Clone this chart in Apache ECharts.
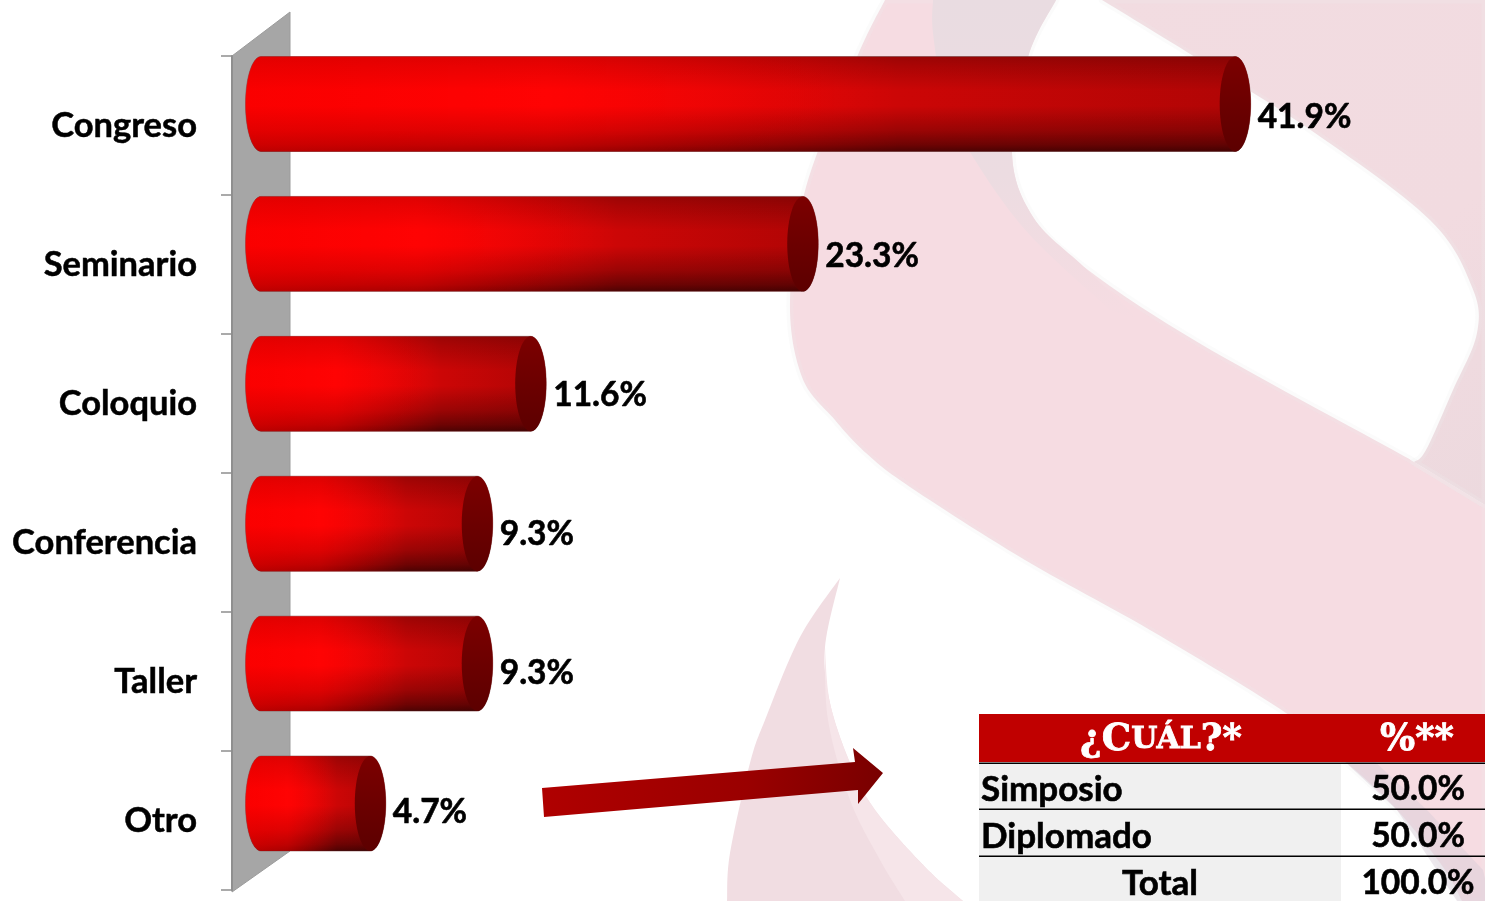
<!DOCTYPE html>
<html><head><meta charset="utf-8">
<style>html,body{margin:0;padding:0;background:#fff}#c{width:1485px;height:901px}</style>
<script src="https://cdn.jsdelivr.net/npm/echarts@6/dist/echarts.min.js"></script></head>
<body><div id="c"></div>
<script>
const categories = ['Congreso','Seminario','Coloquio','Conferencia','Taller','Otro'];
const percentages = [41.9,23.3,11.6,9.3,9.3,4.7];
const tableHeaders = ['¿CUÁL?*','%**'];
const tableLabels = ['Simposio','Diplomado','Total'];
const tableValues = ['50.0%','50.0%','100.0%'];

const FONT = 'Lato';
const chart = echarts.init(document.getElementById('c'));

function curve(p){
  const out=[];
  for(let i=0;i<p.length-1;i++){
    const a=p[Math.max(i-1,0)],b=p[i],c=p[i+1],d=p[Math.min(i+2,p.length-1)];
    for(let k=0;k<14;k++){
      const t=k/14,t2=t*t,t3=t2*t;
      out.push([0,1].map(j=>0.5*(2*b[j]+(c[j]-a[j])*t+(2*a[j]-5*b[j]+4*c[j]-d[j])*t2+(3*b[j]-a[j]-3*c[j]+d[j])*t3)));
    }
  }
  out.push(p[p.length-1]);
  return out;
}
const lin=(x,y,x2,y2,stops)=>({type:'linear',x,y,x2,y2,colorStops:stops.map(s=>({offset:s[0],color:s[1]}))});

// Background watermark ribbons
const ribbonLeft=[[885,0],[857,57],[806,187],[790,300],[802,377],[835,420],[866,453],[910,487],[1025,560],[1150,630],[1286,713],[1347,763],[1397,810],[1443,867],[1462,901]];
const ribbonRight=[[1485,505],[1414,462],[1393,450],[1199,343],[1084,267],[1033,217],[1012,153],[1028,57],[1056,0]];
const bandLeft=[[933,0],[933,33],[945,100],[973,157],[1028,233],[1110,310]];
const bandRight=[[1140,320],[1084,267],[1033,217],[1012,153],[1028,57],[1056,0]];
const upperInner=[[1102,0],[1195,57],[1315,133],[1430,220],[1472,287],[1477,333],[1453,390],[1426,450],[1414,462]];
const lowerLeft=[[840,578],[800,637],[765,720],[750,763],[730,853],[727,901]];
const lowerRight=[[963,901],[925,867],[875,810],[850,763],[830,703],[825,647],[840,578]];
const lowerBandEdge=[[905,901],[880,860],[850,800],[828,720],[825,647]];
const softEdge={stroke:'rgba(235,235,235,0.22)',lineWidth:7,lineJoin:'round'};

const bg=[
 {type:'polygon',z:-10,shape:{points:curve(ribbonLeft).concat([[1485,901]],curve(ribbonRight))},style:{fill:'#f6dce2',...softEdge}},
 {type:'polygon',z:-9,shape:{points:curve(upperInner).concat([[1485,505],[1485,0]])},style:{fill:lin(0,0,1,1,[[0,'#f2dce1'],[0.6,'#f2dbe0'],[1,'#ecd9de']]),...softEdge}},
 {type:'polygon',z:-8,shape:{points:curve(bandLeft).concat(curve(bandRight))},style:{fill:lin(0,0,0,1,[[0,'#e9dce1'],[0.55,'#ecdce1'],[1,'#f6dce2']])}},
 {type:'polygon',z:-8,shape:{points:[[1330,748],[1360,748],[1427,810],[1483,870],[1490,901],[1457,901],[1397,810]]},style:{fill:'rgba(215,205,215,0.45)'}},
 {type:'polygon',z:-8,shape:{points:curve(lowerLeft).concat(curve(lowerRight))},style:{fill:'#f1dde2'}},
 {type:'polygon',z:-7,shape:{points:curve(lowerBandEdge).concat(curve(lowerRight.slice(0,6)).reverse())},style:{fill:'#f6e5e9'}},
];

// 3D wall behind the bars
const wall={type:'polygon',z:-5,shape:{points:[[232,56],[290,12],[290,851],[232,892]]},style:{fill:'#a6a6a6',stroke:'#9c9c9c',lineWidth:1}};

// Arrow
const arrow={type:'polygon',z:20,shape:{points:[[542,788],[855,762],[853,748],[883,773],[858,804],[858,790],[544,817]]},
  style:{fill:lin(0,0.2,1,0.8,[[0,'#b00000'],[0.6,'#9a0000'],[1,'#780000']])}};

// Table
const T={x:979,right:1485,split:1341,head:[714,762],rows:[[764,809],[810,856],[857,901]]};
const heavy={stroke:'#000',lineWidth:0.6};
const tbl=[];
tbl.push({type:'rect',z:20,shape:{x:T.x,y:T.head[0],width:T.right-T.x,height:T.head[1]-T.head[0]},style:{fill:'#c00000'}});
T.rows.forEach((r,i)=>{
  tbl.push({type:'rect',z:20,shape:{x:T.x,y:r[0],width:T.split-T.x,height:r[1]-r[0]},style:{fill:'#f0f0f0'}});
  tbl.push({type:'rect',z:21,shape:{x:T.x,y:r[0]-1.5,width:T.right-T.x,height:1.5},style:{fill:'#000'}});
  const cy=[789.5,836.5,883.5][i];
  const isTotal=i===2;
  tbl.push({type:'text',z:22,style:{text:tableLabels[i],x:isTotal?1160:981,y:cy,textAlign:isTotal?'center':'left',textVerticalAlign:'middle',font:`bold 35px ${FONT}`,fill:'#000',...heavy}});
  tbl.push({type:'text',z:22,style:{text:tableValues[i],x:1418,y:cy,textAlign:'center',textVerticalAlign:'middle',font:`bold 33.5px ${FONT}`,fill:'#000',...heavy}});
});
const H='DejaVu Serif';
const hd=tableHeaders[0];
const headA={fontFamily:H,fontWeight:'bold',fontSize:37,fill:'#fff',stroke:'#fff',lineWidth:0.8};
const headB={fontFamily:H,fontWeight:'bold',fontSize:30,fill:'#fff',stroke:'#fff',lineWidth:0.8};
tbl.push({type:'text',z:22,style:{x:1161,y:740,textAlign:'center',textVerticalAlign:'middle',fill:'#fff',
  text:`{a|${hd.slice(0,2)}}{b|${hd.slice(2,5)}}{a|${hd.slice(5)}}`,
  rich:{a:headA,b:headB}}});
tbl.push({type:'text',z:22,style:{text:tableHeaders[1],x:1417,y:740,textAlign:'center',textVerticalAlign:'middle',...headA}});

function renderCylinder(params,api){
  const idx=api.value(1), v=api.value(0);
  const end=api.coord([v,idx]), zero=api.coord([0,idx]);
  const band=api.size([0,1])[1];
  const h=band*0.683, ry=h/2, rx=15.5;
  const cy=end[1]-21.5+0.9*idx;
  const x0=zero[0], x1=end[0];
  const pts=[];
  for(let i=0;i<=36;i++){const a=Math.PI/2+Math.PI*i/36;pts.push([x0+rx*Math.cos(a),cy-ry*Math.sin(a)]);}
  for(let i=0;i<=36;i++){const a=-Math.PI/2+Math.PI*i/36;pts.push([x1+rx*Math.cos(a),cy-ry*Math.sin(a)]);}
  return {type:'group',children:[
    {type:'polygon',shape:{points:pts},style:{fill:lin(0,0,1,0,[[0,'#f40000'],[0.3,'#ff0505'],[0.65,'#cc0606'],[1,'#b00505']]),stroke:'rgba(130,80,80,0.6)',lineWidth:1}},
    {type:'polygon',shape:{points:pts},style:{fill:lin(0,0,0,1,[[0,'rgba(0,0,0,0.24)'],[0.1,'rgba(0,0,0,0.16)'],[0.36,'rgba(0,0,0,0)'],[0.52,'rgba(0,0,0,0)'],[0.78,'rgba(0,0,0,0.24)'],[0.93,'rgba(0,0,0,0.46)'],[1,'rgba(0,0,0,0.62)']])}},
    {type:'polygon',shape:{points:pts},style:{fill:lin(0,0,1,0,[[0,'rgba(255,0,0,0.6)'],[0.3,'rgba(255,0,0,0.45)'],[0.65,'rgba(255,0,0,0)'],[1,'rgba(255,0,0,0)']])}},
    {type:'ellipse',shape:{cx:x1,cy:cy,rx:rx,ry:ry},style:{fill:lin(0,0,0,1,[[0,'#7c0000'],[0.5,'#6c0000'],[1,'#5c0000']])}},
    {type:'text',style:{text:v.toFixed(1)+'%',x:x1+rx+7,y:end[1]-8,textAlign:'left',textVerticalAlign:'middle',font:`bold 33.5px ${FONT}`,fill:'#000',stroke:'#000',lineWidth:0.6}}
  ]};
}

chart.setOption({
  animation:false,
  backgroundColor:'#fff',
  graphic:{elements:[...bg,wall,arrow,...tbl]},
  grid:{left:261,top:56,width:1162.5,height:834,containLabel:false},
  xAxis:{type:'value',min:0,max:50,show:false},
  yAxis:{type:'category',data:categories,inverse:true,offset:29,
    axisLine:{show:true,onZero:false,lineStyle:{color:'#8f8f8f',width:2}},
    axisTick:{show:true,length:11,lineStyle:{color:'#8f8f8f',width:1.5}},
    axisLabel:{margin:35,fontFamily:FONT,fontWeight:'bold',fontSize:34.5,color:'#000',textBorderColor:'#000',textBorderWidth:0.5,padding:[7,0,0,0]},
    splitLine:{show:false}},
  series:[{type:'custom',coordinateSystem:'cartesian2d',z:5,clip:false,
    data:percentages.map((v,i)=>[v,i]),encode:{x:0,y:1},renderItem:renderCylinder}]
});
</script></body></html>
